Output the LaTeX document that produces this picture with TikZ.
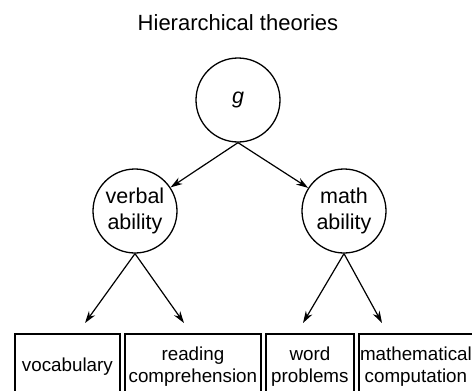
\documentclass[tikz,border=0pt]{standalone}
\usepackage{fontspec}
\setmainfont{Liberation Sans}
\usetikzlibrary{arrows.meta,positioning,calc}
\tikzset{
  facteur/.style={circle, draw, line width=1.3pt, minimum size=84pt, inner sep=0pt,
                  align=center, font=\fontsize{21.5}{26}\selectfont},
  epreuve/.style={rectangle, draw, line width=1.8pt, minimum height=66pt, inner sep=0pt,
                  align=center, font=\fontsize{18.8}{22}\selectfont},
  arr/.style={-{Stealth[length=12pt,width=7.5pt]}, line width=1.2pt},
}

\begin{document}
\begin{tikzpicture}[x=1pt,y=-1pt,node distance=3.2pt]
    \useasboundingbox (0,0) rectangle (472,391);
    \node[font=\fontsize{22}{26}\selectfont] (titre) at (238,23) {Hierarchical theories};
    % facteurs
    \node[facteur] (g) at (238,100) {\textit{g}};
    \node[facteur] (verbal) at (135,211) {verbal\\ability};
    \node[facteur] (math) at (344,211) {math\\ability};
    % epreuves
    \node[epreuve, minimum width=105pt, anchor=north west] (vocab) at (14,333) {vocabulary};
    \node[epreuve, minimum width=136pt, right=of vocab] (reading) {reading\\comprehension};
    \node[epreuve, minimum width=88pt, right=of reading] (word) {word\\problems};
    \node[epreuve, minimum width=114pt, right=of word] (calcul) {mathematical\\computation};
    \coordinate (p1) at (85,323); \coordinate (p2) at (184,323);
    \coordinate (p3) at (303,323); \coordinate (p4) at (382,323);
    \draw[arr] (g.south) -- (verbal); \draw[arr] (g.south) -- (math);
    \draw[arr] (verbal.south) -- (p1); \draw[arr] (verbal.south) -- (p2);
    \draw[arr] (math.south) -- (p3); \draw[arr] (math.south) -- (p4);
\end{tikzpicture}
\end{document}
